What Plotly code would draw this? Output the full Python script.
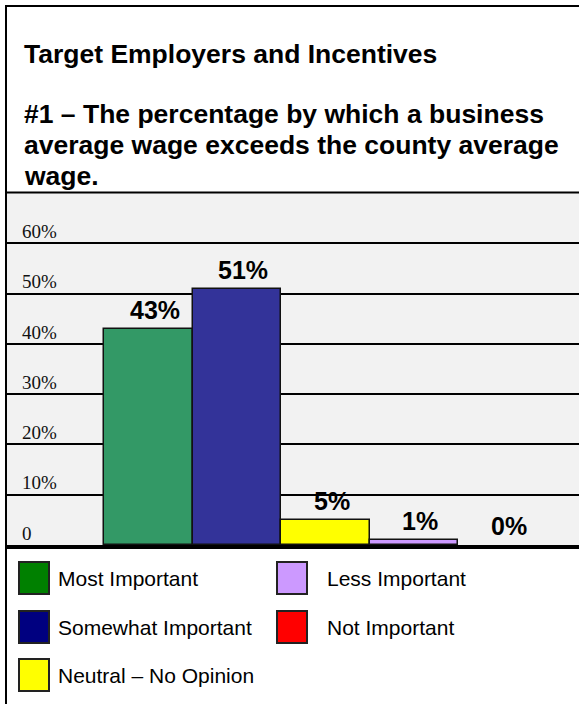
import plotly.graph_objects as go

# Survey responses for question #1
categories = ["Most Important", "Somewhat Important", "Neutral \u2013 No Opinion",
              "Less Important", "Not Important"]
values = [43, 51, 5, 1, 0]
value_labels = ["43%", "51%", "5%", "1%", "0%"]
bar_colors = ["#339966", "#333399", "#FFFF00", "#CC99FF", "#FF0000"]
legend_colors = ["#008000", "#000080", "#FFFF00", "#CC99FF", "#FF0000"]

tick_values = [0, 10, 20, 30, 40, 50, 60]
tick_labels = ["0", "10%", "20%", "30%", "40%", "50%", "60%"]

title_lines = [
    "Target Employers and Incentives",
    "#1 \u2013 The percentage by which a business",
    "average wage exceeds the county average",
    "wage.",
]

W, H = 579, 704


def px(x):
    return x / W


def py(y):
    return 1 - y / H


fig = go.Figure()
fig.add_trace(go.Bar(
    x=categories,
    y=values,
    width=1.0,
    marker=dict(color=bar_colors,
                line=dict(color="#111111",
                          width=[1.5 if v > 0 else 0 for v in values])),
    hoverinfo="skip",
))

annotations = []
shapes = []

# Title block
title_centers = [54, 114, 145, 176]
for line, cy in zip(title_lines, title_centers):
    annotations.append(dict(
        text="<b>%s</b>" % line, xref="paper", yref="paper", x=px(22), y=py(cy),
        xanchor="left", yanchor="middle", showarrow=False,
        font=dict(family="Liberation Sans, Arial", size=26.5, color="black"),
    ))

# Value labels above each bar
for cat, v, lab in zip(categories, values, value_labels):
    annotations.append(dict(
        text="<b>%s</b>" % lab, xref="x", yref="y", x=cat, y=v,
        xanchor="center", yanchor="bottom", xshift=6, yshift=3, showarrow=False,
        font=dict(family="Liberation Sans, Arial", size=25, color="black"),
    ))

# Legend block: two columns, filled column by column
legend_cols = [(19, 56), (277, 325)]
legend_rows = [578, 627, 675]
for i, (cat, col) in enumerate(zip(categories, legend_colors)):
    c, r = divmod(i, 3)
    sx, tx = legend_cols[c]
    cy = legend_rows[r]
    shapes.append(dict(
        type="rect", xref="paper", yref="paper",
        x0=px(sx), x1=px(sx + 30), y0=py(cy - 16), y1=py(cy + 16),
        fillcolor=col, line=dict(color="#222222", width=2),
    ))
    annotations.append(dict(
        text=cat, xref="paper", yref="paper", x=px(tx), y=py(cy),
        xanchor="left", yanchor="middle", showarrow=False,
        font=dict(family="Liberation Sans, Arial", size=21, color="black"),
    ))

# Frame lines
shapes += [
    dict(type="line", xref="paper", yref="paper", x0=px(6), x1=px(6),
         y0=py(5), y1=py(H), line=dict(color="black", width=2)),
    dict(type="line", xref="paper", yref="paper", x0=px(5), x1=1,
         y0=py(6), y1=py(6), line=dict(color="black", width=2)),
    dict(type="line", xref="paper", yref="paper", x0=px(5), x1=1,
         y0=py(192.5), y1=py(192.5), line=dict(color="black", width=2)),
    dict(type="line", xref="paper", yref="paper", x0=px(5), x1=1,
         y0=py(547), y1=py(547), line=dict(color="black", width=4)),
]

fig.update_layout(
    width=W, height=H,
    margin=dict(l=0, r=0, t=0, b=0),
    paper_bgcolor="white",
    plot_bgcolor="#F2F2F2",
    showlegend=False,
    bargap=0,
    annotations=annotations,
    shapes=shapes,
    xaxis=dict(
        domain=[px(7), 1],
        range=[-1.6, 4.863],
        showticklabels=False, showgrid=False, zeroline=False, ticks="",
        fixedrange=True,
    ),
    yaxis=dict(
        domain=[py(545), py(193)],
        range=[0, 70],
        tickvals=tick_values, ticktext=tick_labels,
        ticklabelposition="inside",
        ticklabelstandoff=12,
        ticklabelshift=-12,
        ticks="",
        tickfont=dict(family="Liberation Serif, Times New Roman", size=19, color="#111111"),
        showgrid=True, gridcolor="black", gridwidth=2,
        zeroline=False, showline=False,
        fixedrange=True,
    ),
)

fig.write_html("out.html")
